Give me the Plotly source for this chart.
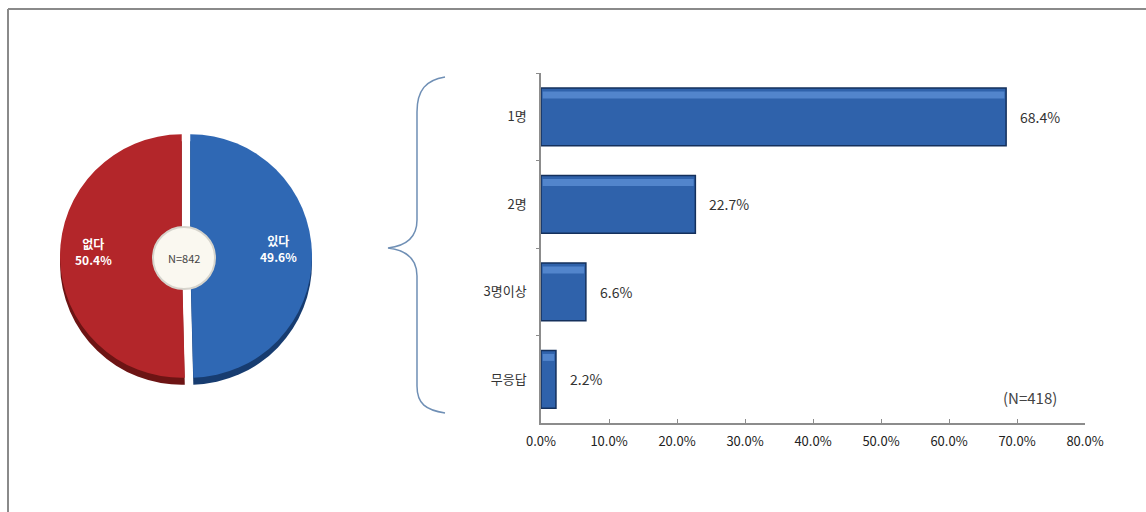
import math
import plotly.graph_objects as go

W, H = 1146, 512

# Pie: whether respondents have any (N=842)
pie_labels = ["있다", "없다"]
pie_values = [49.6, 50.4]
pie_colors = ["#2f68b4", "#b3262a"]
pie_rim = ["#173c70", "#6d1414"]
pie_total = "N=842"

# Bars: how many (N=418)
bar_cats = ["1명", "2명", "3명이상", "무응답"]
bar_vals = [68.4, 22.7, 6.6, 2.2]
bar_total = "(N=418)"
x_ticks = [0, 10, 20, 30, 40, 50, 60, 70, 80]

FONT = "Noto Sans CJK KR"


def fx(px):
    return px / W


def fy(py):
    return 1 - py / H


fig = go.Figure()

# pie geometry (pixels)
cx, cy, half = 186, 256, 126
rim = 7
pull = 0.035
r_out = half / (1 + pull)

# dark rim underneath gives the pie some depth
fig.add_trace(go.Pie(
    labels=pie_labels, values=pie_values, sort=False, direction="clockwise",
    rotation=0, pull=pull, textinfo="none", hoverinfo="skip",
    marker=dict(colors=pie_rim, line=dict(width=0)),
    domain=dict(x=[fx(cx - half), fx(cx + half)],
                y=[fy(cy + rim + half), fy(cy + rim - half)]),
    showlegend=False,
))
fig.add_trace(go.Pie(
    labels=pie_labels, values=pie_values, sort=False, direction="clockwise",
    rotation=0, pull=pull, textinfo="none",
    marker=dict(colors=pie_colors, line=dict(width=0)),
    domain=dict(x=[fx(cx - half), fx(cx + half)],
                y=[fy(cy + half), fy(cy - half)]),
    showlegend=False,
))

# slice labels placed toward the rim at each slice's mid angle
total = sum(pie_values)
acc = 0.0
for lab, val in zip(pie_labels, pie_values):
    mid = (acc + val / 2) / total * 2 * math.pi
    acc += val
    rr = 0.76 * r_out
    px = cx + rr * math.sin(mid)
    py = cy - 6 - rr * math.cos(mid)
    fig.add_annotation(
        x=fx(px), y=fy(py), xref="paper", yref="paper",
        xanchor="center", yanchor="middle",
        text=f"<b>{lab}<br>{val:.1f}%</b>", showarrow=False,
        font=dict(family=FONT, size=12, color="white"), align="center",
    )

# horizontal bars, with a soft lighter band along the top edge
fig.add_trace(go.Bar(
    x=bar_vals, y=bar_cats, orientation="h", width=0.66,
    marker=dict(color="#2f62ab", line=dict(color="#14305c", width=1.5)),
    showlegend=False, hoverinfo="x+y",
))
fig.add_trace(go.Bar(
    x=[v - 0.5 for v in bar_vals], base=[0.25] * len(bar_vals),
    y=bar_cats, orientation="h", width=0.08, offset=-0.29,
    marker=dict(color="#5b8ed4", line=dict(width=0), opacity=0.8),
    showlegend=False, hoverinfo="skip",
))

for cat, val in zip(bar_cats, bar_vals):
    fig.add_annotation(
        x=val, y=cat, xref="x", yref="y", text=f"{val:.1f}%",
        showarrow=False, xanchor="left", yanchor="middle", xshift=12,
        font=dict(family=FONT, size=14, color="#333333"),
    )

fig.add_annotation(
    x=fx(1030), y=fy(397), xref="paper", yref="paper", text=bar_total,
    xanchor="center", yanchor="middle",
    showarrow=False, font=dict(family=FONT, size=15, color="#444444"),
)

# centre disc of the pie with its count
fig.add_shape(type="circle", xref="paper", yref="paper",
              x0=fx(cx - 2 - 31), x1=fx(cx - 2 + 31),
              y0=fy(cy + 2 + 31), y1=fy(cy + 2 - 31),
              fillcolor="#faf8f0", line=dict(color="#d6d4cc", width=2))
fig.add_annotation(x=fx(cx - 2), y=fy(cy + 2), xref="paper", yref="paper",
                   xanchor="center", yanchor="middle",
                   text=pie_total, showarrow=False,
                   font=dict(family=FONT, size=11, color="#444444"))


# curly brace linking the pie to the bars
def path(points):
    out = []
    for cmd, pts in points:
        coords = " ".join(f"{fx(x):.5f},{fy(y):.5f}" for x, y in pts)
        out.append(f"{cmd} {coords}")
    return " ".join(out)


brace = path([
    ("M", [(445, 77)]),
    ("C", [(426, 80), (417, 90), (417, 112)]),
    ("L", [(417, 220)]),
    ("C", [(417, 238), (405, 246), (388, 248)]),
    ("C", [(405, 250), (417, 258), (417, 276)]),
    ("L", [(417, 386)]),
    ("C", [(417, 404), (426, 410), (445, 413)]),
])
fig.add_shape(type="path", xref="paper", yref="paper", path=brace,
              line=dict(color="#6f8fb5", width=1.5))

# frame lines along top and left
fig.add_shape(type="line", xref="paper", yref="paper",
              x0=fx(8), x1=1, y0=fy(9), y1=fy(9),
              line=dict(color="#8a8a8a", width=2))
fig.add_shape(type="line", xref="paper", yref="paper",
              x0=fx(8), x1=fx(8), y0=fy(9), y1=0,
              line=dict(color="#8a8a8a", width=2))

fig.update_layout(
    autosize=True, margin=dict(l=0, r=0, t=0, b=0, autoexpand=False),
    paper_bgcolor="white", plot_bgcolor="white",
    barmode="overlay",
    font=dict(family=FONT, size=12, color="#333333"),
    xaxis=dict(
        domain=[fx(541), fx(1085)], range=[0, 80], tickvals=x_ticks,
        ticktext=[f"{t:.1f}%" for t in x_ticks],
        showgrid=False, zeroline=False,
        showline=True, linecolor="#8c8c8c", linewidth=1.5,
        ticks="inside", ticklen=4, tickcolor="#8c8c8c",
        ticklabelstandoff=6,
        tickfont=dict(family=FONT, size=13, color="#222222"),
        anchor="y", fixedrange=True,
    ),
    yaxis=dict(
        domain=[fy(423), fy(73)], type="category",
        categoryorder="array", categoryarray=bar_cats, autorange="reversed",
        showgrid=False, zeroline=False, showline=True,
        linecolor="#8c8c8c", linewidth=1.5,
        ticks="outside", ticklen=3, tickcolor="#8c8c8c",
        tickson="boundaries", ticklabelstandoff=10,
        tickfont=dict(family=FONT, size=13, color="#333333"),
        anchor="x", fixedrange=True,
    ),
)

fig.write_html(
    "out.html",
    default_width="100vw",
    default_height="100vh",
    post_script="document.body.style.margin='0';",
)
